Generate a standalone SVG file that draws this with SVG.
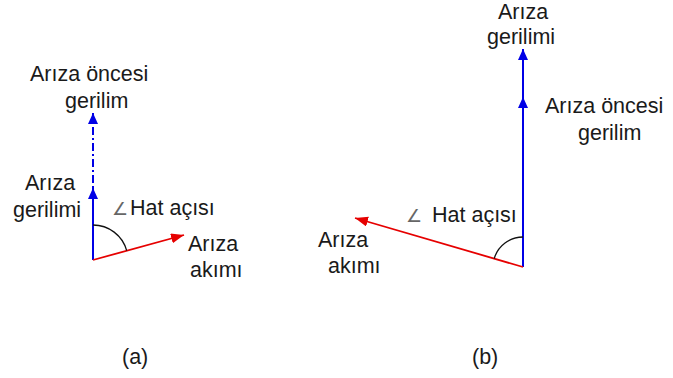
<svg xmlns="http://www.w3.org/2000/svg" width="673" height="378" viewBox="0 0 673 378">
<style>
text{font-family:"Liberation Sans",Arial,sans-serif;font-size:21.5px;fill:#1a1a1a}
.ang{fill:#666;font-family:"DejaVu Sans",sans-serif;font-size:18px}
.blue{stroke:#0000e6;stroke-width:2;fill:none}
.red{stroke:#e60000;stroke-width:1.8;fill:none}
.arc{stroke:#111;stroke-width:1.3;fill:none}
</style>
<defs>
<marker id="ab" markerUnits="userSpaceOnUse" markerWidth="12" markerHeight="12" refX="11" refY="5" orient="auto"><path d="M0,0 L11,5 L0,10 Z" fill="#0000e6"/></marker>
<marker id="ar" markerUnits="userSpaceOnUse" markerWidth="14" markerHeight="12" refX="13" refY="5" orient="auto"><path d="M0,0 L13,5 L0,10 Z" fill="#e60000"/></marker>
</defs>
<rect width="673" height="378" fill="#fff"/>
<g id="connectors">
<line class="blue" x1="93" y1="260" x2="93" y2="188" marker-end="url(#ab)"/>
<line class="blue" x1="93" y1="199" x2="93" y2="113" stroke-dasharray="8 3 2 3" marker-end="url(#ab)"/>
<line class="red" x1="93" y1="260" x2="184" y2="235" marker-end="url(#ar)"/>
<path class="arc" d="M93,225 A35,35 0 0 1 126.7,250.6"/>
<line class="blue" x1="523" y1="267" x2="523" y2="97" marker-end="url(#ab)"/>
<line class="blue" x1="523" y1="108" x2="523" y2="49" marker-end="url(#ab)"/>
<line class="red" x1="523" y1="267" x2="355" y2="218" marker-end="url(#ar)"/>
<path class="arc" d="M523,237 A30,30 0 0 0 494.2,258.6"/>
</g>
<g id="a-pre"><text x="30" y="81">Arıza öncesi</text><text x="65" y="108">gerilim</text></g>
<g id="a-fault-v"><text x="25" y="190">Arıza</text><text x="13" y="217">gerilimi</text></g>
<g id="a-angle"><text class="ang" x="112" y="215">∠</text><text x="130" y="215">Hat açısı</text></g>
<g id="a-current"><text x="188" y="251">Arıza</text><text x="190" y="277">akımı</text></g>
<g id="b-fault-v"><text x="498" y="19">Arıza</text><text x="487" y="44">gerilimi</text></g>
<g id="b-pre"><text x="545" y="113">Arıza öncesi</text><text x="578" y="140">gerilim</text></g>
<g id="b-angle"><text class="ang" x="406" y="222">∠</text><text x="432" y="222">Hat açısı</text></g>
<g id="b-current"><text x="318" y="247">Arıza</text><text x="328" y="273">akımı</text></g>
<g id="labels"><text x="122" y="364">(a)</text><text x="472" y="364">(b)</text></g>
</svg>
